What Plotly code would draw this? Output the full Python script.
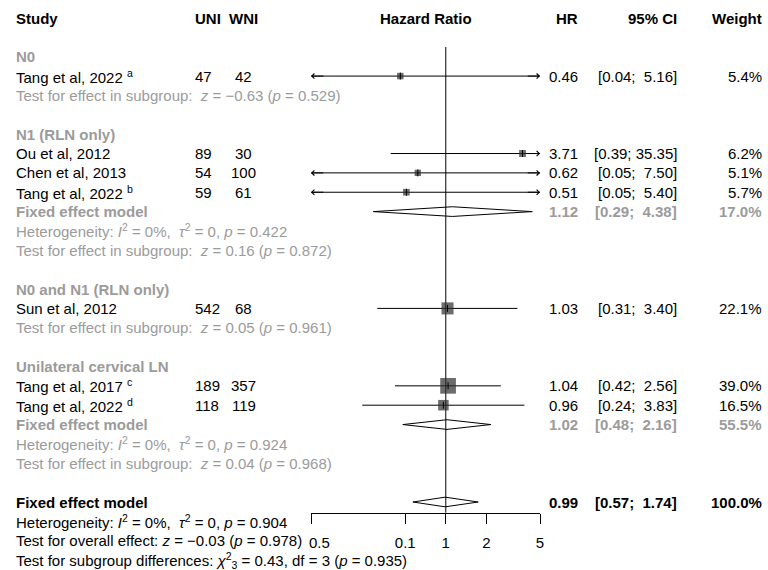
import math
import plotly.graph_objects as go

# ---------------- data ----------------
studies = ["Tang et al, 2022", "Ou et al, 2012", "Chen et al, 2013", "Tang et al, 2022",
           "Sun et al, 2012", "Tang et al, 2017", "Tang et al, 2022"]
study_notes = ["a", "", "", "b", "", "c", "d"]
study_group = ["N0", "N1 (RLN only)", "N1 (RLN only)", "N1 (RLN only)",
               "N0 and N1 (RLN only)", "Unilateral cervical LN", "Unilateral cervical LN"]
uni = [47, 89, 54, 59, 542, 189, 118]
wni = [42, 30, 100, 61, 68, 357, 119]
hr = [0.46, 3.71, 0.62, 0.51, 1.03, 1.04, 0.96]
ci_lo = [0.04, 0.39, 0.05, 0.05, 0.31, 0.42, 0.24]
ci_hi = [5.16, 35.35, 7.50, 5.40, 3.40, 2.56, 3.83]
weight = [5.4, 6.2, 5.1, 5.7, 22.1, 39.0, 16.5]

group_names = ["N0", "N1 (RLN only)", "N0 and N1 (RLN only)", "Unilateral cervical LN"]
group_hr = [None, 1.12, None, 1.02]
group_lo = [None, 0.29, None, 0.48]
group_hi = [None, 4.38, None, 2.16]
group_weight = [None, 17.0, None, 55.5]
group_het_p = [None, 0.422, None, 0.924]
group_z = [-0.63, 0.16, 0.05, 0.04]
group_p = [0.529, 0.872, 0.961, 0.968]

overall_hr, overall_lo, overall_hi, overall_weight = 0.99, 0.57, 1.74, 100.0
overall_het_p = 0.904
overall_z, overall_p = -0.03, 0.978
subgroup_chi2, subgroup_df, subgroup_p = 0.43, 3, 0.935

axis_min, axis_max = 0.1, 5.0
tick_vals = [0.1, 0.5, 1, 2, 5]
tick_text = ["0.5", "0.1", "1", "2", "5"]
ref_value = 1.0

# ---------------- layout constants ----------------
W, H = 768, 570
ROW0, ROWH = 18.0, 19.36
FONT = "Liberation Sans, Arial, sans-serif"
FS = 15
GRAY = "#9b9b9b"
BLACK = "#000000"
SQ = "#2e2e2e"

def row_y(px):
    return (px - ROW0) / ROWH

def px_x(px):
    return px / W

X_STUDY, X_UNI, X_WNI, X_HR, X_CI, X_W, X_HRHEAD = 15, 194, 243.5, 579, 678, 763, 426
AX_L, AX_R = 311, 540
AXIS_PX = 512.7

def fmt(v):
    return f"{v:.2f}".replace("-", "\u2212")

def ci_text(lo, hi):
    return f"[{lo:.2f};\u00a0{hi:5.2f}]".replace(" ", "\u00a0")

fig = go.Figure()
ann = []

def text(x, k, s, anchor="left", color=BLACK, bold=False):
    if bold:
        s = f"<b>{s}</b>"
    ann.append(dict(x=px_x(x), y=k, xref="paper", yref="y", text=s, showarrow=False,
                    xanchor=anchor, yanchor="middle",
                    font=dict(family=FONT, size=FS, color=color), borderpad=0))

# header
text(X_STUDY, 0, "Study", bold=True)
text(X_UNI, 0, "UNI", bold=True)
text(X_WNI, 0, "WNI", anchor="center", bold=True)
text(X_HRHEAD, 0, "Hazard Ratio", anchor="center", bold=True)
text(X_HR, 0, "HR", anchor="right", bold=True)
text(X_CI, 0, "95% CI", anchor="right", bold=True)
text(X_W, 0, "Weight", anchor="right", bold=True)

log_span = math.log10(axis_max) - math.log10(axis_min)
arrow_dx = 0.06 * log_span

def ci_line(k, est, lo, hi):
    lo_c = max(lo, axis_min)
    hi_c = min(hi, axis_max)
    fig.add_trace(go.Scatter(x=[lo_c, hi_c], y=[k, k], mode="lines",
                             line=dict(color=BLACK, width=1), hoverinfo="skip", showlegend=False))
    if lo < axis_min:
        ann.append(dict(x=math.log10(axis_min), y=k, ax=math.log10(axis_min) + arrow_dx, ay=k,
                        xref="x", yref="y", axref="x", ayref="y", text="", showarrow=True,
                        arrowhead=4, arrowsize=1.0, arrowwidth=1, arrowcolor=BLACK, standoff=0))
    if hi > axis_max:
        ann.append(dict(x=math.log10(axis_max), y=k, ax=math.log10(axis_max) - arrow_dx, ay=k,
                        xref="x", yref="y", axref="x", ayref="y", text="", showarrow=True,
                        arrowhead=4, arrowsize=1.0, arrowwidth=1, arrowcolor=BLACK, standoff=0))

def diamond(k, est, lo, hi):
    hh = 0.25
    fig.add_trace(go.Scatter(x=[lo, est, hi, est, lo], y=[k, k - hh, k, k + hh, k],
                             mode="lines", fill="toself", fillcolor="white",
                             line=dict(color=BLACK, width=1), hoverinfo="skip", showlegend=False))

sq_k, sq_x, sq_size = [], [], []
k = 2
for gi, g in enumerate(group_names):
    text(X_STUDY, k, g, color=GRAY, bold=True)
    k += 1
    for si, s in enumerate(studies):
        if study_group[si] != g:
            continue
        note = f"\u00a0<sup>{study_notes[si]}</sup>" if study_notes[si] else ""
        text(X_STUDY, k, s + note)
        text(X_UNI, k, str(uni[si]))
        text(X_WNI, k, str(wni[si]), anchor="center")
        text(X_HR, k, f"{hr[si]:.2f}", anchor="right")
        text(X_CI, k, ci_text(ci_lo[si], ci_hi[si]), anchor="right")
        text(X_W, k, f"{weight[si]:.1f}%", anchor="right")
        ci_line(k, hr[si], ci_lo[si], ci_hi[si])
        sq_k.append(k); sq_x.append(hr[si]); sq_size.append(1.0 + 2.35 * math.sqrt(weight[si]))
        k += 1
    if group_hr[gi] is not None:
        text(X_STUDY, k, "Fixed effect model", color=GRAY, bold=True)
        text(X_HR, k, f"{group_hr[gi]:.2f}", anchor="right", color=GRAY, bold=True)
        text(X_CI, k, ci_text(group_lo[gi], group_hi[gi]), anchor="right", color=GRAY, bold=True)
        text(X_W, k, f"{group_weight[gi]:.1f}%", anchor="right", color=GRAY, bold=True)
        diamond(k, group_hr[gi], group_lo[gi], group_hi[gi])
        k += 1
        text(X_STUDY, k, "Heterogeneity: <i>I</i><sup>2</sup> = 0%,\u00a0 <i>\u03c4</i><sup>2</sup> = 0, "
             f"<i>p</i> = {group_het_p[gi]:.3f}", color=GRAY)
        k += 1
    text(X_STUDY, k, f"Test for effect in subgroup:\u00a0 <i>z</i> = {fmt(group_z[gi])} "
         f"(<i>p</i> = {group_p[gi]:.3f})", color=GRAY)
    k += 2

# overall
text(X_STUDY, k, "Fixed effect model", bold=True)
text(X_HR, k, f"{overall_hr:.2f}", anchor="right", bold=True)
text(X_CI, k, ci_text(overall_lo, overall_hi), anchor="right", bold=True)
text(X_W, k, f"{overall_weight:.1f}%", anchor="right", bold=True)
diamond(k, overall_hr, overall_lo, overall_hi)
text(X_STUDY, k + 1, "Heterogeneity: <i>I</i><sup>2</sup> = 0%,\u00a0 <i>\u03c4</i><sup>2</sup> = 0, "
     f"<i>p</i> = {overall_het_p:.3f}")
text(X_STUDY, k + 2, f"Test for overall effect: <i>z</i> = {fmt(overall_z)} (<i>p</i> = {overall_p:.3f})")
text(X_STUDY, k + 3, f"Test for subgroup differences: <i>\u03c7</i><sup>2</sup><sub>{subgroup_df}</sub> = "
     f"{subgroup_chi2:.2f}, df = {subgroup_df} (<i>p</i> = {subgroup_p:.3f})")

# reference line
fig.add_trace(go.Scatter(x=[ref_value, ref_value], y=[row_y(47), row_y(AXIS_PX)], mode="lines",
                         line=dict(color=BLACK, width=1), hoverinfo="skip", showlegend=False))

# squares
fig.add_trace(go.Scatter(x=sq_x, y=sq_k, mode="markers",
                         marker=dict(symbol="square", size=sq_size, color=SQ, line=dict(width=0)),
                         hoverinfo="skip", showlegend=False))
fig.add_trace(go.Scatter(x=sq_x, y=sq_k, mode="markers",
                         marker=dict(symbol="line-ns-open", size=5, color=BLACK,
                                     line=dict(color=BLACK, width=1)),
                         hoverinfo="skip", showlegend=False))

# first tick label sits a little right of its tick in the reference
shown_ticks = ["\u00a0\u00a0\u00a0\u00a0" + tick_text[0]] + tick_text[1:]

fig.update_layout(
    template="none",
    width=W, height=H, margin=dict(l=0, r=0, t=0, b=0, pad=0, autoexpand=False),
    paper_bgcolor="white", plot_bgcolor="rgba(0,0,0,0)",
    annotations=ann, showlegend=False,
    font=dict(family=FONT, size=FS, color=BLACK),
    xaxis=dict(type="log", domain=[AX_L / W, AX_R / W],
               range=[math.log10(axis_min), math.log10(axis_max)],
               anchor="free", position=(H - AXIS_PX) / H, automargin=False,
               showline=True, linecolor=BLACK, linewidth=1,
               ticks="outside", ticklen=10, tickwidth=1, tickcolor=BLACK,
               tickvals=tick_vals, ticktext=shown_ticks, ticklabelstandoff=6,
               tickfont=dict(family=FONT, size=FS, color=BLACK),
               showgrid=False, zeroline=False, fixedrange=True),
    yaxis=dict(range=[row_y(H), row_y(0)], domain=[0, 1], visible=False, automargin=False,
               showgrid=False, zeroline=False, fixedrange=True),
)

fig.write_html("out.html")
